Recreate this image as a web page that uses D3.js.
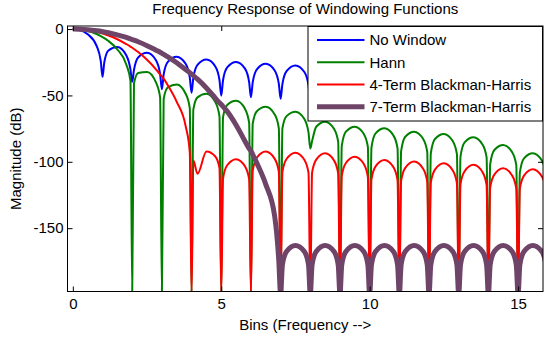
<!DOCTYPE html>
<html>
<head>
<meta charset="utf-8">
<script src="https://cdn.jsdelivr.net/npm/d3@7"></script>
<style>
  html, body { margin: 0; padding: 0; background: #fff; }
  svg { display: block; }
  text { font-family: "Liberation Sans", Arial, sans-serif; fill: #000; }
</style>
</head>
<body>
<script>
// ---- Data ----
const bins = [
  0, 0.06, 0.2, 0.5, 0.8, 0.94,
  1, 1.06, 1.2, 1.5, 1.8, 1.94,
  2, 2.06, 2.2, 2.5, 2.8, 2.94,
  3, 3.06, 3.2, 3.5, 3.8, 3.94,
  4, 4.06, 4.2, 4.5, 4.8, 4.94,
  5, 5.06, 5.2, 5.5, 5.8, 5.94,
  6, 6.06, 6.2, 6.5, 6.8, 6.94,
  7, 7.06, 7.2, 7.5, 7.8, 7.94,
  8, 8.06, 8.2, 8.5, 8.8, 8.94,
  9, 9.06, 9.2, 9.5, 9.8, 9.94,
  10, 10.06, 10.2, 10.5, 10.8, 10.94,
  11, 11.06, 11.2, 11.5, 11.8, 11.94,
  12, 12.06, 12.2, 12.5, 12.8, 12.94,
  13, 13.06, 13.2, 13.5, 13.8, 13.94,
  14, 14.06, 14.2, 14.5, 14.8, 14.94,
  15, 15.06, 15.2, 15.5, 15.8, 15.94,
  16
];

const noWindow = [
  0, -0.05, -0.58, -3.92, -12.62, -23.95,
  -36, -25.0, -16.14, -13.46, -19.66, -30.24,
  -39.7, -30.77, -21.41, -17.9, -23.5, -33.86,
  -45.4, -34.2, -24.66, -20.82, -26.15, -36.4,
  -47.9, -36.66, -27.02, -23.01, -28.18, -38.36,
  -50.2, -38.57, -28.88, -24.75, -29.83, -39.96,
  -51.4, -40.14, -30.41, -26.2, -31.21, -41.32,
  -52.5, -41.46, -31.7, -27.44, -32.4, -42.48,
  -53.5, -42.6, -32.8, -28.5, -33.4, -43.4,
  -54.4, -43.6, -33.8, -29.5, -34.3, -44.3,
  -55.2, -44.5, -34.7, -30.4, -35.2, -45.1,
  -56, -45.3, -35.5, -31.2, -35.9, -45.9,
  -56.7, -46, -36.2, -31.9, -36.6, -46.6,
  -57.3, -46.7, -36.9, -32.6, -37.3, -47.2,
  -57.9, -47.3, -37.5, -33.2, -37.9, -47.8,
  -58.5, -47.9, -38.1, -33.8, -38.4, -48.3,
  -59
];

const hann = [
  0, -0.02, -0.22, -1.42, -3.75, -5.27,
  -6.02, -6.84, -9.01, -15.4, -26.67, -39.07,
  -200, -40.99, -33.09, -32.31, -40.2, -51.52,
  -200, -52.65, -43.97, -41.85, -48.72, -59.64,
  -200, -60.46, -51.45, -48.7, -55.05, -65.75,
  -200, -66.39, -57.19, -54.07, -60.1, -70.67,
  -200, -71.2, -61.87, -58.51, -64.32, -74.79,
  -200, -75, -65.6, -62.3, -67.8, -78,
  -90, -84.4, -73.6, -69.8, -75.2, -85,
  -200, -88.1, -77.3, -73.5, -78.9, -88.7,
  -200, -89.4, -78.6, -74.8, -80.2, -90,
  -200, -91.9, -81.1, -77.3, -82.7, -92.5,
  -200, -93.6, -82.8, -79, -84.4, -94.2,
  -200, -96.1, -85.3, -81.5, -86.9, -96.7,
  -200, -101.9, -91.1, -87.3, -92.7, -102.5,
  -200, -108.2, -97.4, -93.6, -99, -108.8,
  -200
];

const blackmanHarris4 = [
  0, -0.01, -0.14, -0.83, -2.13, -2.95,
  -3.34, -3.75, -4.85, -7.68, -11.3, -13.2,
  -14.11, -15.0, -17.3, -23.13, -30.3, -34.2,
  -35.77, -37.3, -42.3, -54.8, -73, -93,
  -200, -99, -109, -92.3, -96, -104.6,
  -200, -112.6, -102.6, -98, -103.4, -113.2,
  -200, -106.9, -96.9, -92.3, -97.7, -107.5,
  -200, -107.7, -97.9, -93.1, -98.5, -108.3,
  -200, -108.2, -98.4, -93.6, -99, -108.8,
  -200, -110.7, -100.9, -96.1, -101.5, -111.3,
  -200, -113.2, -103.4, -98.6, -104, -113.8,
  -200, -114.4, -104.6, -99.8, -105.2, -115,
  -200, -115.7, -105.9, -101.1, -106.5, -116.3,
  -200, -116.9, -107.1, -102.3, -107.7, -117.5,
  -200, -119.5, -109.7, -104.9, -110.3, -120.1,
  -200, -120.2, -110.4, -105.6, -111, -120.8,
  -200
];

const blackmanHarris7 = [
  0, -0.01, -0.08, -0.48, -1.25, -1.7,
  -1.95, -2.2, -2.8, -4.41, -6.3, -7.4,
  -7.91, -8.4, -9.6, -12.51, -15.9, -17.5,
  -18.3, -19.1, -21.0, -25.41, -30.5, -32.9,
  -34.0, -35.1, -37.8, -44.36, -52, -55.6,
  -56.88, -58.4, -62, -72.25, -84.5, -90,
  -91.83, -94.5, -101, -117, -141, -175,
  -200, -177.6, -167.6, -163, -167.6, -177.6,
  -200, -177.6, -167.6, -163, -167.6, -177.6,
  -200, -177.6, -167.6, -163, -167.6, -177.6,
  -200, -177.6, -167.6, -163, -167.6, -177.6,
  -200, -177.6, -167.6, -163, -167.6, -177.6,
  -200, -177.6, -167.6, -163, -167.6, -177.6,
  -200, -177.6, -167.6, -163, -167.6, -177.6,
  -200, -177.6, -167.6, -163, -167.6, -177.6,
  -200, -177.6, -167.6, -163, -167.6, -177.6,
  -200
];

const seriesNames = ["No Window", "Hann", "4-Term Blackman-Harris", "7-Term Blackman-Harris"];
const seriesValues = [noWindow, hann, blackmanHarris4, blackmanHarris7];
const seriesColors = ["#0000ff", "#008000", "#ff0000", "#6e4468"];
const seriesWidths = [2, 2, 2, 5];

const xTicks = [0, 5, 10, 15];
const yTicks = [0, -50, -100, -150];
const titleText = "Frequency Response of Windowing Functions";
const xLabel = "Bins (Frequency -->";
const yLabel = "Magnitude (dB)";

// ---- Layout ----
const W = 544, H = 340;
const L = 67.5, R = 543, T = 26, B = 291.5;
const FS = 15;

const svg = d3.select("body").append("svg").attr("width", W).attr("height", H);

const x = d3.scaleLinear().domain([-0.18, 15.84]).range([L, R]);
const y = d3.scaleLinear().domain([-197.7, 2.3]).range([B, T]);

svg.append("defs").append("clipPath").attr("id", "plotclip")
  .append("rect").attr("x", L).attr("y", T).attr("width", R - L).attr("height", B - T);

// lines
const line = d3.line().x(d => x(d[0])).y(d => y(d[1])).curve(d3.curveMonotoneX);
const plot = svg.append("g").attr("clip-path", "url(#plotclip)");
seriesValues.forEach((vals, i) => {
  const pts = bins.map((b, j) => [b, vals[j]]);
  plot.append("path")
    .attr("d", line(pts))
    .attr("fill", "none")
    .attr("stroke", seriesColors[i])
    .attr("stroke-width", seriesWidths[i])
    .attr("stroke-linejoin", "round");
});

// axes
function styleAxis(g) {
  g.select(".domain").remove();
  g.selectAll(".tick line").attr("stroke", "#000");
  g.selectAll("text").attr("font-size", FS).attr("font-family", "Liberation Sans, Arial, sans-serif").attr("fill", "#000");
}
svg.append("g").attr("transform", `translate(0,${B})`)
  .call(d3.axisBottom(x).tickValues(xTicks).tickFormat(d => String(d)).tickSizeInner(-5).tickSizeOuter(0).tickPadding(7))
  .call(styleAxis);
svg.append("g").attr("transform", `translate(0,${T})`)
  .call(d3.axisTop(x).tickValues(xTicks).tickFormat("").tickSizeInner(-5).tickSizeOuter(0))
  .call(styleAxis);
svg.append("g").attr("transform", `translate(${L},0)`)
  .call(d3.axisLeft(y).tickValues(yTicks).tickFormat(d => String(d)).tickSizeInner(-5).tickSizeOuter(0).tickPadding(4))
  .call(styleAxis);
svg.append("g").attr("transform", `translate(${R},0)`)
  .call(d3.axisRight(y).tickValues(yTicks).tickFormat("").tickSizeInner(-5).tickSizeOuter(0))
  .call(styleAxis);

svg.append("rect").attr("x", L).attr("y", T).attr("width", R - L).attr("height", B - T)
  .attr("fill", "none").attr("stroke", "#000").attr("stroke-width", 1);

// title & labels
svg.append("text").attr("x", (L + R) / 2).attr("y", 14).attr("text-anchor", "middle")
  .attr("font-size", FS).text(titleText);
svg.append("text").attr("x", (L + R) / 2).attr("y", 329.5).attr("text-anchor", "middle")
  .attr("font-size", FS).text(xLabel);
svg.append("text").attr("transform", `translate(20.5,${(T + B) / 2}) rotate(-90)`)
  .attr("text-anchor", "middle").attr("font-size", FS).text(yLabel);

// legend
const lg = svg.append("g");
lg.append("rect").attr("x", 308).attr("y", 26.5).attr("width", 234.5).attr("height", 94.5)
  .attr("fill", "#fff").attr("stroke", "#000").attr("stroke-width", 1);
const rowY = [40, 62.3, 84.5, 106.7];
seriesNames.forEach((name, i) => {
  lg.append("line").attr("x1", 317).attr("x2", 364.5).attr("y1", rowY[i]).attr("y2", rowY[i])
    .attr("stroke", seriesColors[i]).attr("stroke-width", seriesWidths[i]);
  lg.append("text").attr("x", 369.5).attr("y", rowY[i]).attr("dy", "0.35em")
    .attr("font-size", FS).text(name);
});
</script>
</body>
</html>
